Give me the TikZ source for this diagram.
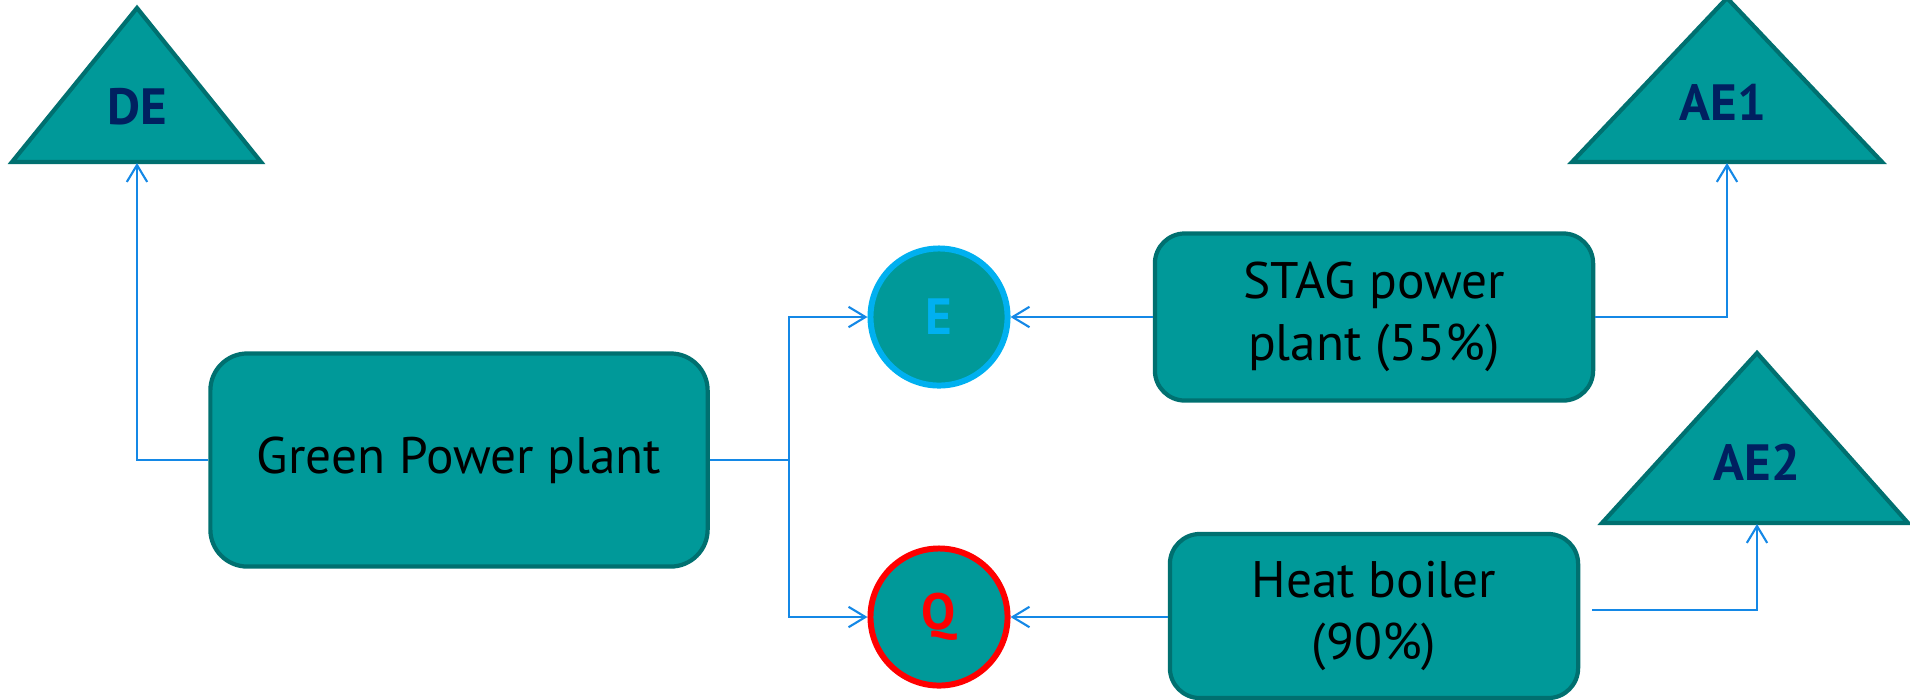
\documentclass[tikz,border=0pt]{standalone}
\usepackage{fontspec}
\setmainfont{PT Sans}
\usetikzlibrary{arrows.meta, positioning}

\definecolor{tealfill}{RGB}{0,153,153}
\definecolor{tealedge}{RGB}{0,112,112}
\definecolor{flowblue}{RGB}{20,136,230}
\definecolor{navytext}{RGB}{0,32,96}
\definecolor{elblue}{RGB}{0,176,240}

\tikzset{
  plant/.style={draw=tealedge, fill=tealfill, line width=1.2pt, rounded corners=0.3cm,
    align=center, font=\fontsize{14.6}{17.5}\selectfont},
  carrier/.style={draw, fill=tealfill, circle, line width=1.7pt, minimum size=1.37cm,
    inner sep=0pt, font=\fontsize{14.5}{17}\selectfont\bfseries},
  demand/.style={draw=tealedge, fill=tealfill, line width=1.2pt, line join=miter},
  demlabel/.style={text=navytext, font=\fontsize{14.5}{17}\selectfont\bfseries},
  flow/.style={draw=flowblue, line width=0.6pt}
}

\begin{document}
\begin{tikzpicture}[x=0.01cm, y=-0.01cm, >={Straight Barb[length=4.8pt, width=5.8pt]}]
\useasboundingbox (0,0) rectangle (1910,699);

            % demand triangles
            \filldraw[demand] (12,162) -- (137,8) -- (261,162) -- cycle;
            \filldraw[demand] (1572,162) -- (1727,-2) -- (1882,162) -- cycle;
            \filldraw[demand] (1602,523) -- (1757,353) -- (1908,523) -- cycle;
            \node[demlabel] (de) at (137,107) {DE};
            \node[demlabel] (ae1) at (1723,102) {AE1};
            \node[demlabel] (ae2) at (1757,462) {AE2};
            \coordinate (deb) at (137,163);
            \coordinate (ae1b) at (1727,163);
            \coordinate (ae2b) at (1757,524);

            % plants
            \node[plant, rounded corners=0.37cm, minimum width=4.97cm, minimum height=2.13cm] (gpp) at (459,460) {Green Power plant};
            \node[plant, minimum width=4.38cm, minimum height=1.67cm] (stag) at (1374,317) {STAG power\\plant (55\%)};
            \node[plant, minimum width=4.08cm, minimum height=1.64cm] (heat) at (1374,616) {Heat boiler\\(90\%)};

            % energy carriers
            \node[carrier, draw=elblue, text=elblue] (el) at (939,317) {E};
            \node[carrier, draw=red, text=red] (q) at (939,617) {Q};

            \coordinate (jn) at (789,460);
            \coordinate (hbo) at (1592,610);

            % Connections: plants to carriers and demands
            \draw[flow, ->] (gpp.west) -| (deb);
            \draw[flow] (gpp.east) -- (jn);
            \draw[flow, ->] (jn) |- (el.west);
            \draw[flow, ->] (jn) |- (q.west);
            \draw[flow, ->] (stag.west) -- (el.east);
            \draw[flow, ->] (heat.west |- q) -- (q.east);
            \draw[flow, ->] (stag.east) -| (ae1b);
            \draw[flow, ->] (hbo) -| (ae2b);

        \end{tikzpicture}
\end{document}
